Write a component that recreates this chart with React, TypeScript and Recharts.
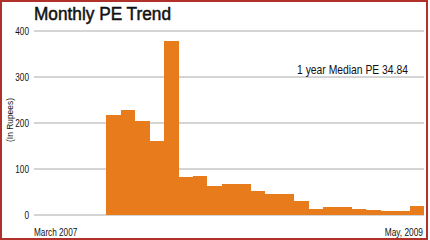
import React from 'react';
import { BarChart, Bar, XAxis, YAxis, CartesianGrid } from 'recharts';

// monthly categories, March 2007 .. May 2009
const months = [
  'Mar 2007', 'Apr 2007', 'May 2007', 'Jun 2007', 'Jul 2007', 'Aug 2007', 'Sep 2007',
  'Oct 2007', 'Nov 2007', 'Dec 2007', 'Jan 2008', 'Feb 2008', 'Mar 2008', 'Apr 2008',
  'May 2008', 'Jun 2008', 'Jul 2008', 'Aug 2008', 'Sep 2008', 'Oct 2008', 'Nov 2008',
  'Dec 2008', 'Jan 2009', 'Feb 2009', 'Mar 2009', 'Apr 2009', 'May 2009'
];
const peValues: (number | null)[] = [
  null, null, null, null, null, 217, 228,
  204, 161, 378, 83, 85, 62, 68,
  68, 52, 46, 46, 30, 12, 18,
  17, 14, 10, 9, 9, 20
];
const yTicks = [0, 100, 200, 300, 400];
const firstLabel = 'March 2007';
const lastLabel = 'May, 2009';
const MEDIAN_PE = 34.84;

const data = months.map((m, i) => ({ month: m, pe: peValues[i] }));

const FONT = '"Liberation Sans", Arial, sans-serif';
const BAR_COLOR = '#e87b1c';
const TEXT = '#111';

// the original uses a condensed face, so squeeze Arial-metric text a bit
const narrowLen = (s: string, size: number) => {
  const w: Record<string, number> = { ' ': 0.278, ',': 0.278, '.': 0.278, M: 0.833, a: 0.556, r: 0.333, c: 0.5, h: 0.556, y: 0.5 };
  let total = 0;
  for (const ch of s) total += w[ch] ?? 0.556;
  return total * size * 0.82;
};

const EdgeTick = (props: any) => {
  const { x, y, index } = props;
  const half = 390 / months.length / 2;
  if (index === 0) {
    return (
      <text x={x - half} y={y + 13} textAnchor="start" fontSize={10} fontFamily={FONT} fill={TEXT}
        textLength={narrowLen(firstLabel, 10)} lengthAdjust="spacingAndGlyphs">
        {firstLabel}
      </text>
    );
  }
  if (index === months.length - 1) {
    return (
      <text x={x + half - 1} y={y + 13} textAnchor="end" fontSize={10} fontFamily={FONT} fill={TEXT}
        textLength={narrowLen(lastLabel, 10)} lengthAdjust="spacingAndGlyphs">
        {lastLabel}
      </text>
    );
  }
  return null;
};

const ValueTick = (props: any) => {
  const { x, y, payload } = props;
  const s = String(payload.value);
  return (
    <text x={x} y={y + 3.5} textAnchor="end" fontSize={10} fontFamily={FONT} fill={TEXT}
      textLength={narrowLen(s, 10)} lengthAdjust="spacingAndGlyphs">
      {s}
    </text>
  );
};

// plain rect with crisp edges so neighbouring bars meet without seams
const FlatBar = (props: any) => {
  const { x, y, width, height, fill } = props;
  if (!height || height <= 0) return null;
  return <rect x={x} y={y} width={width + 0.5} height={height} fill={fill} shapeRendering="crispEdges" />;
};

export default function App() {
  const note = `1 year Median PE ${MEDIAN_PE.toFixed(2)}`;
  return (
    <div
      style={{
        position: 'absolute',
        left: 0,
        top: 0,
        width: 428,
        height: 240,
        boxSizing: 'border-box',
        border: '2px solid #b0302a',
        background: '#fff'
      }}
    >
      <div style={{ position: 'absolute', left: -2, top: -2 }}>
        <BarChart
          width={430}
          height={240}
          data={data}
          margin={{ top: 31, right: 6, bottom: 0, left: 0 }}
          barCategoryGap={0}
        >
          <CartesianGrid horizontal vertical={false} stroke="#aaaaaa" />
          <XAxis
            dataKey="month"
            height={25}
            axisLine={false}
            tickLine={false}
            interval={0}
            tick={EdgeTick}
          />
          <YAxis
            width={34}
            domain={[0, 400]}
            ticks={yTicks}
            axisLine={false}
            tickLine={false}
            tickSize={3}
            tickMargin={2}
            tick={ValueTick}
          />
          <Bar dataKey="pe" fill={BAR_COLOR} shape={FlatBar} isAnimationActive={false} />
        </BarChart>
      </div>
      <svg
        width={430}
        height={240}
        style={{ position: 'absolute', left: -2, top: -2, pointerEvents: 'none' }}
      >
        <text x={34} y={20} fontSize={18} fontFamily={FONT} fill={TEXT} stroke={TEXT} strokeWidth={0.5}
          textLength={137} lengthAdjust="spacingAndGlyphs">
          Monthly PE Trend
        </text>
        <text x={408} y={74} textAnchor="end" fontSize={13} fontFamily={FONT} fill={TEXT}
          textLength={111} lengthAdjust="spacingAndGlyphs">
          {note}
        </text>
        <text
          transform="translate(13 120) rotate(-90)"
          textAnchor="middle"
          fontSize={9}
          fontFamily={FONT}
          fill={TEXT}
          textLength={44}
          lengthAdjust="spacingAndGlyphs"
        >
          (In Rupees)
        </text>
      </svg>
    </div>
  );
}
